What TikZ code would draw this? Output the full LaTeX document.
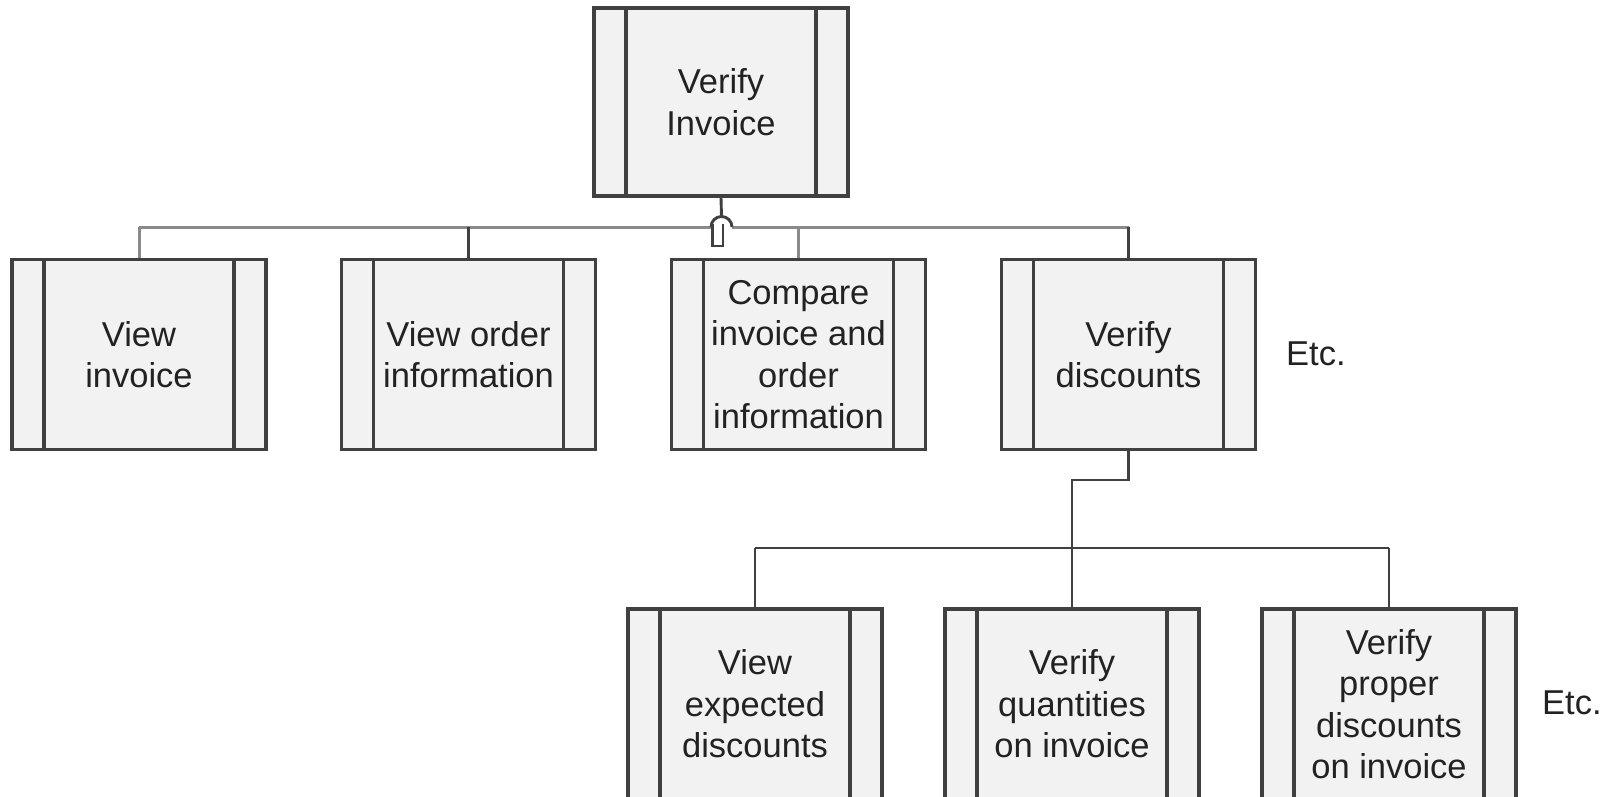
\documentclass[tikz,border=0pt]{standalone}
\usepackage{fontspec}
\setmainfont{Liberation Sans}
\definecolor{lc}{HTML}{404040}
\definecolor{bf}{HTML}{F2F2F2}
\definecolor{gc}{HTML}{8A8A8A}
\definecolor{tc}{HTML}{222222}
\newcommand{\boxfont}{\fontsize{34.5}{41.5}\selectfont}
\tikzset{
  proc/.style={draw=lc, fill=bf, line width=3.2pt, minimum width=254pt,
    minimum height=190pt, inner sep=0pt, align=center, font=\boxfont, text=tc,
    path picture={
      \draw[lc, line width=3.2pt]
        ([xshift=32pt]path picture bounding box.north west) --
        ([xshift=32pt]path picture bounding box.south west)
        ([xshift=-32pt]path picture bounding box.north east) --
        ([xshift=-32pt]path picture bounding box.south east);
    }},
  conn/.style={draw=lc, line width=2.9pt},
  gconn/.style={draw=gc, line width=3pt},
  etc/.style={font=\boxfont, text=tc, inner sep=0pt, anchor=base west}
}
\begin{document}
\begin{tikzpicture}[x=1pt,y=1pt]
\useasboundingbox (0,0) rectangle (1606,-796);
\clip (0,0) rectangle (1606,-796);
% boxes
\node[proc, minimum height=188pt] (top) at (721,-102) {Verify\\Invoice};
\node[proc] (vi) at (139,-354.5) {View\\invoice};
\node[proc] (vo) at (468.5,-354.5) {View order\\information};
\node[proc] (ci) at (798.5,-354.5) {Compare\\invoice and\\order\\information};
\node[proc] (vd) at (1128.5,-354.5) {Verify\\discounts};
\node[proc] (ve) at (755,-704) {View\\expected\\discounts};
\node[proc] (vq) at (1072,-704) {Verify\\quantities\\on invoice};
\node[proc] (vp) at (1389,-704) {Verify\\proper\\discounts\\on invoice};
\node[etc] (e1) at (1286,-365) {Etc.};
\node[etc] (e2) at (1542,-714) {Etc.};
% top bus coordinates
\coordinate (b1) at (139,-227);
\coordinate (b2) at (468.5,-227);
\coordinate (b3) at (798.5,-227);
\coordinate (b4) at (1128.5,-227);
\coordinate (hl) at (711,-227);
\coordinate (hr) at (732,-227);
\coordinate (ht) at (721.5,-216.5);
% bus
\draw[gconn] (b1) -- (hl);
\draw[gconn] (hr) -- (b4);
\draw[gconn] (b1) -- (vi.north);
\draw[gconn] (b3) -- (ci.north);
\draw[conn] (b2) -- (vo.north);
\draw[conn] (b4) -- (vd.north);
% stem and hop
\draw[conn] (top.south) -- (ht);
\draw[conn] (hl) arc (180:0:10.5);
\draw[conn, line width=2.5pt] (712.5,-224) -- (712.5,-246) -- (723,-246) -- (723,-224);
% lower connectors
\coordinate (d1) at (1128.5,-480);
\coordinate (d2) at (1072,-480);
\coordinate (d3) at (1072,-548);
\coordinate (l1) at (755,-548);
\coordinate (l3) at (1389,-548);
\draw[conn] (vd.south) -- (d1) -- (d2) -- (d3);
\draw[conn] (l1) -- (l3);
\draw[conn] (l1) -- (ve.north);
\draw[conn] (d3) -- (vq.north);
\draw[conn] (l3) -- (vp.north);
\end{tikzpicture}
\end{document}
